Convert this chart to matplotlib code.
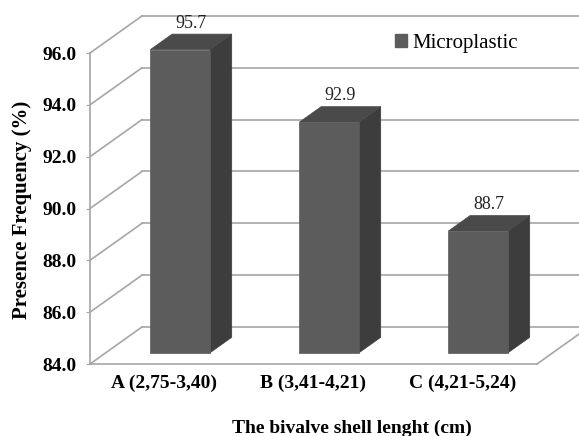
import matplotlib.pyplot as plt
from matplotlib.patches import Polygon, Patch

categories = ["A (2,75-3,40)", "B (3,41-4,21)", "C (4,21-5,24)"]
values = [95.7, 92.9, 88.7]
series_name = "Microplastic"
y_ticks = [84.0, 86.0, 88.0, 90.0, 92.0, 94.0, 96.0]

Y_MIN, Y_MAX = 84.0, 96.0
# oblique depth offsets (per unit of depth) in data units
DEPTH_X = 0.349
DEPTH_Y = 1.43
BAR_W = 0.40
BAR_D0, BAR_D1 = 0.30, 0.72

GRID = "#a6a6a6"
FRONT = "#5c5c5c"
SIDE = "#3d3d3d"
TOP = "#4a4a4a"

plt.rcParams["font.family"] = ["Liberation Serif", "DejaVu Serif"]

fig = plt.figure(figsize=(5.79, 4.36), dpi=100)
ax = fig.add_axes([0.1554, 0.1651, 0.772, 0.7133])
ax.set_xlim(0, len(categories))
ax.set_ylim(Y_MIN, Y_MAX)

# walls: diagonals from the front axis to the back wall, then back grid lines
for v in y_ticks:
    ax.plot([0, DEPTH_X], [v, v + DEPTH_Y], color=GRID, lw=1.2, clip_on=False, zorder=1)
    ax.plot([DEPTH_X, len(categories) + DEPTH_X], [v + DEPTH_Y, v + DEPTH_Y],
            color=GRID, lw=1.2, clip_on=False, zorder=1)
# right edge of the floor
ax.plot([len(categories), len(categories) + DEPTH_X], [Y_MIN, Y_MIN + DEPTH_Y],
        color=GRID, lw=1.2, clip_on=False, zorder=1)


def pt(x, y, d):
    return (x + DEPTH_X * d, y + DEPTH_Y * d)


for i, v in enumerate(values):
    xl = i + 0.5 - BAR_W / 2
    xr = i + 0.5 + BAR_W / 2
    front = [pt(xl, Y_MIN, BAR_D0), pt(xr, Y_MIN, BAR_D0), pt(xr, v, BAR_D0), pt(xl, v, BAR_D0)]
    side = [pt(xr, Y_MIN, BAR_D0), pt(xr, Y_MIN, BAR_D1), pt(xr, v, BAR_D1), pt(xr, v, BAR_D0)]
    top = [pt(xl, v, BAR_D0), pt(xr, v, BAR_D0), pt(xr, v, BAR_D1), pt(xl, v, BAR_D1)]
    for poly, col in ((side, SIDE), (top, TOP), (front, FRONT)):
        ax.add_patch(Polygon(poly, closed=True, facecolor=col, edgecolor=col,
                             lw=0.5, clip_on=False, zorder=3))
    lx, ly = pt(i + 0.5, v, (BAR_D0 + BAR_D1) / 2)
    ax.text(lx, v + DEPTH_Y * BAR_D1 + 0.1, f"{v:.1f}", ha="center", va="bottom",
            fontsize=13, color="#222222", zorder=4)

for side_name in ("top", "right"):
    ax.spines[side_name].set_visible(False)
for side_name in ("left", "bottom"):
    ax.spines[side_name].set_color(GRID)
    ax.spines[side_name].set_linewidth(1.2)

ax.set_yticks(y_ticks)
ax.set_yticklabels([f"{t:.1f}" for t in y_ticks], fontsize=14, fontweight="bold")
ax.tick_params(axis="y", length=3, color=GRID, pad=6.5)
ax.set_xticks([i + 0.5 for i in range(len(categories))])
ax.set_xticklabels(categories, fontsize=14, fontweight="bold")
ax.tick_params(axis="x", length=0, pad=8)

fig.text(0.608, 0.018, "The bivalve shell lenght (cm)", ha="center", va="center",
         fontsize=14, fontweight="bold")
fig.text(0.038, 0.518, "Presence Frequency (%)", ha="center", va="center",
         rotation=90, fontsize=15, fontweight="bold")

handle = Patch(facecolor=FRONT, edgecolor=FRONT, label=series_name)
fig.legend(handles=[handle], loc="center left", bbox_to_anchor=(0.683, 0.901),
           frameon=False, fontsize=15, handlelength=0.55, handleheight=0.55,
           handletextpad=0.25, borderpad=0, borderaxespad=0)

fig.savefig("out.png", dpi=100)
